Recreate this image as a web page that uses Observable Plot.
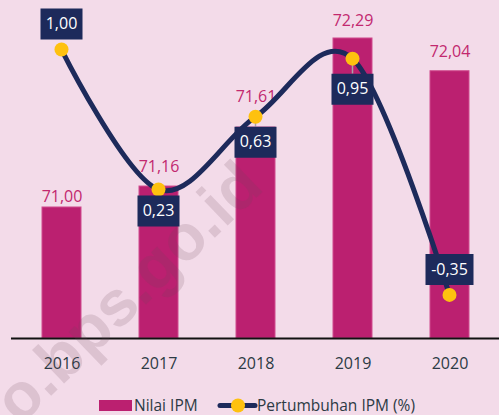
<!DOCTYPE html>
<html><head><meta charset="utf-8">
<script src="https://cdn.jsdelivr.net/npm/d3@7"></script>
<script src="https://cdn.jsdelivr.net/npm/@observablehq/plot@0.6"></script>
<style>
html,body{margin:0;padding:0;background:#f3dbe9;}
#wrap{position:relative;width:499px;height:415px;overflow:hidden;background:#f3dbe9;font-family:"Open Sans",sans-serif;}
#bars,#growth{position:absolute;left:0;top:0;}
#legend{position:absolute;left:0;top:385px;}
#wm{position:absolute;left:0;top:0;pointer-events:none;}
</style></head><body>
<div id="wrap"><div id="bars"></div><div id="growth"></div><div id="legend"></div><svg id="wm" width="499" height="415"></svg></div>
<script>
const years = ["2016", "2017", "2018", "2019", "2020"];
const ipmValues = [71.00, 71.16, 71.61, 72.29, 72.04];
const growthValues = [1.00, 0.23, 0.63, 0.95, -0.35];
const seriesNames = ["Nilai IPM", "Pertumbuhan IPM (%)"];

const fmt = v => v.toFixed(2).replace(".", ",");
const barData = years.map((y, i) => ({year: y, value: ipmValues[i]}));
const growthData = years.map((y, i) => ({year: y, value: growthValues[i]}));

const W = 499, H = 385;
const MAGENTA = "#bb2070", NAVY = "#1d2a5b", YELLOW = "#fec10f", LABEL = "#c2286f", AXIS = "#2c3a44";
const FONT = "Open Sans, sans-serif";
const xScale = {domain: years, paddingInner: 0.6, paddingOuter: 0.3};
const margins = {marginTop: 0, marginBottom: 47, marginLeft: 11, marginRight: 0};

// label offsets (code-side layout)
const barLabelDy = {"2016": -11, "2017": -20, "2018": -31, "2019": -18, "2020": -19};
const boxDy = {"2016": -25.5, "2017": 21.5, "2018": 25.5, "2019": 30.5, "2020": -25.5};
const leaderLen = {"2018": 10, "2019": 15};

const barPlot = Plot.plot({
  width: W, height: H, ...margins,
  style: {background: "transparent", fontFamily: FONT},
  x: {...xScale, label: null},
  y: {domain: [70, 72.58], axis: null},
  marks: [
    Plot.barY(barData, {x: "year", y1: 70, y2: "value", fill: MAGENTA, stroke: "#d04b8e", strokeWidth: 1}),
    ...years.map(yr => Plot.text(barData, {
      filter: d => d.year === yr, x: "year", y: "value", text: d => fmt(d.value),
      dy: barLabelDy[yr], fill: LABEL, fontSize: 16, fontFamily: FONT
    })),
    Plot.ruleY([70], {stroke: "#111", strokeWidth: 2}),
    Plot.axisX({tickSize: 0, tickPadding: 19, fontSize: 16, fill: AXIS, label: null, fontFamily: FONT})
  ]
});
document.getElementById("bars").append(barPlot);

const rectSym = (w, h) => ({draw(ctx) { ctx.rect(-w / 2, -h / 2, w, h); }});
const lineSym = (len) => ({draw(ctx) { ctx.moveTo(0, 0); ctx.lineTo(0, len); }});

const growthPlot = Plot.plot({
  width: W, height: H, ...margins,
  style: {background: "transparent", fontFamily: FONT},
  x: {...xScale, axis: null},
  y: {domain: [-0.59, 1.27], axis: null},
  marks: [
    Plot.line(growthData, {x: "year", y: "value", stroke: NAVY, strokeWidth: 5, curve: d3.curveCatmullRom.alpha(0)}),
    ...Object.keys(leaderLen).map(yr => Plot.dot(growthData, {
      filter: d => d.year === yr, x: "year", y: "value",
      symbol: lineSym(leaderLen[yr]), stroke: "#a9a3a8", strokeWidth: 1.5, fill: "none"
    })),
    Plot.dot(growthData, {x: "year", y: "value", r: 7, fill: YELLOW, stroke: "none"}),
    ...years.map(yr => Plot.dot(growthData, {
      filter: d => d.year === yr, x: "year", y: "value",
      symbol: rectSym(fmt(growthValues[years.indexOf(yr)]).length > 4 ? 48 : 42, 31),
      dy: boxDy[yr], fill: NAVY, stroke: "none"
    })),
    ...years.map(yr => Plot.text(growthData, {
      filter: d => d.year === yr, x: "year", y: "value", text: d => fmt(d.value),
      dy: boxDy[yr], fill: "white", fontSize: 16, fontFamily: FONT
    }))
  ]
});
document.getElementById("growth").append(growthPlot);

// legend
const lg = d3.select("#legend").append("svg").attr("width", W).attr("height", 30);
lg.append("rect").attr("x", 99).attr("y", 15).attr("width", 33).attr("height", 11).attr("fill", MAGENTA);
lg.append("text").attr("x", 134).attr("y", 26).text(seriesNames[0])
  .attr("font-size", 15.5).attr("fill", AXIS).attr("font-family", FONT);
lg.append("line").attr("x1", 220).attr("x2", 255).attr("y1", 20.5).attr("y2", 20.5)
  .attr("stroke", NAVY).attr("stroke-width", 5).attr("stroke-linecap", "round");
lg.append("circle").attr("cx", 238).attr("cy", 20.5).attr("r", 7).attr("fill", YELLOW);
lg.append("text").attr("x", 257).attr("y", 26).text(seriesNames[1])
  .attr("font-size", 15.5).attr("fill", AXIS).attr("font-family", FONT);

// watermark
d3.select("#wm").append("text").attr("transform", "translate(20,426) rotate(-44)")
  .attr("font-family", "Liberation Sans, Arial, sans-serif").attr("font-weight", "bold")
  .attr("font-size", 64).attr("fill", "#6a4a5a").attr("fill-opacity", 0.17)
  .text("o.bps.go.id");
</script>
</body></html>
